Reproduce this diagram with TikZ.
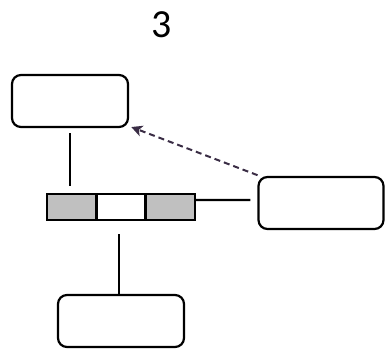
\documentclass[tikz,border=0pt]{standalone}
\usepackage{fontspec}
\setmainfont{Carlito}
\usetikzlibrary{arrows.meta}
\definecolor{cellgray}{HTML}{C0C0C0}
\definecolor{arrowpurple}{HTML}{3A2D45}
\begin{document}
\begin{tikzpicture}[x=1bp,y=-1bp,
  rbox/.style={draw,line width=2.2bp,rounded corners=9bp,minimum width=116bp,minimum height=52bp,inner sep=0pt},
  cell/.style={draw,line width=2.2bp,minimum width=49bp,minimum height=26bp,inner sep=0pt},
  conn/.style={line width=2.2bp}]
\useasboundingbox (0,0) rectangle (385,349);
\node[font=\fontsize{40}{44}\selectfont] (title) at (162,25) {3};
\node[rbox] (tl) at (70,101) {};
\node[rbox,minimum width=125bp] (rb) at (321,203) {};
\node[rbox,minimum width=126bp] (bt) at (121,321) {};
\node[cell,fill=cellgray] (cl) at (71.5,207) {};
\node[cell,fill=white] (cm) at (121,207) {};
\node[cell,fill=cellgray] (cr) at (170.5,207) {};
\draw[conn,shorten <=5bp,shorten >=7bp] (tl.south) -- (tl.south |- cl.north);
\draw[conn,shorten <=13bp] (cm.south -| 119,0) -- (bt.north -| 119,0);
\draw[conn,shorten >=7bp] ([yshift=7bp]cr.east) -- ([yshift=3bp]rb.west);
\draw[line width=2bp,arrowpurple,dash pattern=on 6bp off 4bp,-{Stealth[length=11bp,width=11bp,inset=3bp]},shorten <=2bp,shorten >=-3bp]
  ([xshift=2bp]rb.north west) -- ([xshift=5bp]tl.south east);
\end{tikzpicture}
\end{document}
